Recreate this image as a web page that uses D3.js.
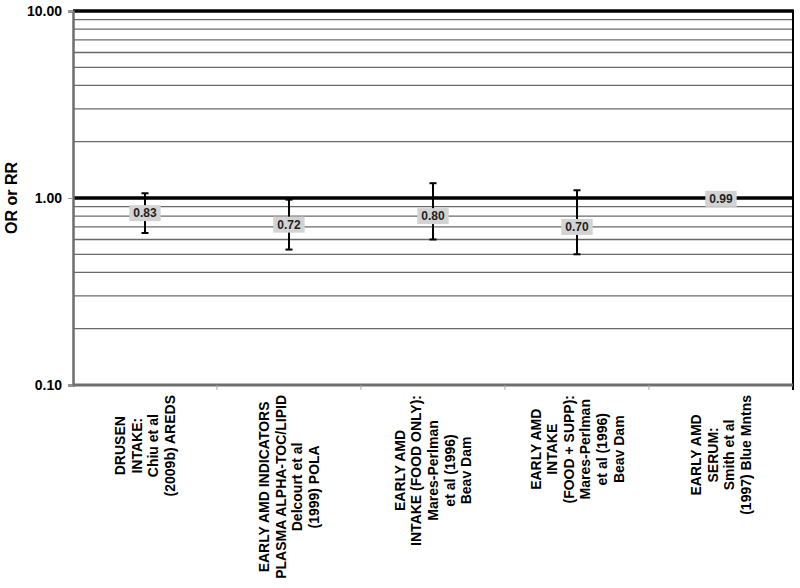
<!DOCTYPE html>
<html><head><meta charset="utf-8">
<script src="https://cdn.jsdelivr.net/npm/d3@7"></script>
<style>body{margin:0;background:#fff}svg{display:block;font-family:"Liberation Sans",Arial,sans-serif}</style>
</head><body><svg id="c" width="800" height="588"></svg>
<script>
const categories = [
  ["DRUSEN","INTAKE:","Chiu et al","(2009b) AREDS"],
  ["EARLY AMD INDICATORS","PLASMA ALPHA-TOC/LIPID","Delcourt et al","(1999) POLA"],
  ["EARLY AMD","INTAKE (FOOD ONLY):","Mares-Perlman","et al (1996)","Beav Dam"],
  ["EARLY AMD","INTAKE","(FOOD + SUPP):","Mares-Perlman","et al (1996)","Beav Dam"],
  ["EARLY AMD","SERUM:","Smith et al","(1997) Blue Mntns"]
];
const estimates = [0.83, 0.72, 0.80, 0.70, 0.99];
const lowerCI = [0.65, 0.53, 0.60, 0.50, null];
const upperCI = [1.06, 0.98, 1.20, 1.10, null];
const yTicks = [0.1, 1, 10];
const yTitle = "OR or RR";

const svg = d3.select("#c");
const L = 73, R = 793, T = 11, B = 385;
const x = d3.scaleBand().domain(d3.range(categories.length)).range([L, R]);
const y = d3.scaleLog().domain([0.1, 10]).range([B, T]);

// minor gridlines
const minor = [];
[0.1, 1].forEach(d => { for (let k = 2; k <= 9; k++) minor.push(+(d * k).toFixed(2)); });
svg.append("g").selectAll("line").data(minor).join("line")
  .attr("x1", L).attr("x2", R).attr("y1", d => y(d)).attr("y2", d => y(d))
  .attr("stroke", "#6a6a6a").attr("stroke-width", 1.3);

// major lines 1 and 10
svg.append("g").selectAll("line").data([1, 10]).join("line")
  .attr("x1", L).attr("x2", R).attr("y1", d => y(d)).attr("y2", d => y(d))
  .attr("stroke", "#000").attr("stroke-width", 3.5);

// right border
svg.append("line").attr("x1", R).attr("x2", R).attr("y1", T - 1.5).attr("y2", B + 5)
  .attr("stroke", "#000").attr("stroke-width", 2);

// y axis
const yAxis = d3.axisLeft(y).tickValues(yTicks).tickFormat(d3.format(".2f")).tickSize(5).tickPadding(6);
const ya = svg.append("g").attr("transform", `translate(${L},0)`).call(yAxis);
ya.select(".domain").attr("stroke", "#6e6e6e").attr("stroke-width", 2.5);
ya.selectAll(".tick line").attr("stroke", "#999").attr("stroke-width", 1);
ya.selectAll(".tick text").attr("font-size", 14).attr("font-weight", "bold").attr("fill", "#000");

// x axis (category separators)
svg.append("line").attr("x1", L).attr("x2", R).attr("y1", B).attr("y2", B)
  .attr("stroke", "#6e6e6e").attr("stroke-width", 3);
svg.append("g").selectAll("line").data(d3.range(1, categories.length)).join("line")
  .attr("x1", d => x(d)).attr("x2", d => x(d)).attr("y1", B).attr("y2", B + 5)
  .attr("stroke", "#aaa").attr("stroke-width", 1);

// y title
svg.append("text").attr("transform", `translate(17,${(T + B) / 2}) rotate(-90)`)
  .attr("text-anchor", "middle").attr("font-size", 16).attr("font-weight", "bold")
  .text(yTitle);

// x labels
categories.forEach((lines, i) => {
  const cx = x(i) + x.bandwidth() / 2;
  const g = svg.append("g");
  const n = lines.length, lh = 16.6;
  const t = g.selectAll("text").data(lines).join("text")
    .attr("text-anchor", "middle").attr("font-size", 14).attr("font-weight", "bold")
    .attr("x", 0).attr("y", (d, j) => (j - (n - 1) / 2) * lh + 5)
    .text(d => d);
  let maxW = 0; t.each(function(){ maxW = Math.max(maxW, this.getComputedTextLength()); });
  g.attr("transform", `translate(${cx},${395 + maxW / 2}) rotate(-90)`);
});

// error bars
const eb = svg.append("g");
estimates.forEach((v, i) => {
  if (lowerCI[i] == null) return;
  const cx = x(i) + x.bandwidth() / 2;
  eb.append("line").attr("x1", cx).attr("x2", cx).attr("y1", y(lowerCI[i])).attr("y2", y(upperCI[i]))
    .attr("stroke", "#000").attr("stroke-width", 2);
  [lowerCI[i], upperCI[i]].forEach(c => {
    eb.append("line").attr("x1", cx - 3.5).attr("x2", cx + 3.5).attr("y1", y(c)).attr("y2", y(c))
      .attr("stroke", "#000").attr("stroke-width", 2);
  });
});

// value labels
estimates.forEach((v, i) => {
  const cx = x(i) + x.bandwidth() / 2;
  const g = svg.append("g").attr("transform", `translate(${cx},${y(v)})`);
  const r = g.append("rect").attr("fill", "#d3d3d3");
  const t = g.append("text").attr("text-anchor", "middle").attr("dy", "0.36em")
    .attr("font-size", 12).attr("font-weight", "bold").attr("fill", "#222").text(d3.format(".2f")(v));
  const w = t.node().getComputedTextLength() + 8, h = 16;
  r.attr("x", -w / 2).attr("y", -h / 2).attr("width", w).attr("height", h);
});
</script></body></html>
